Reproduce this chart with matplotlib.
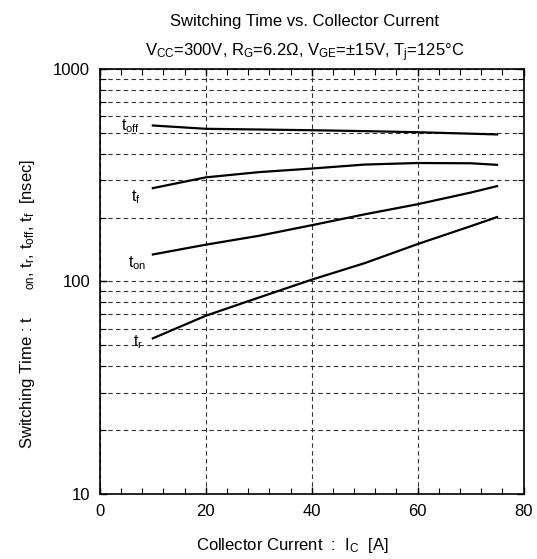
import matplotlib
matplotlib.use("Agg")
import matplotlib.pyplot as plt
import numpy as np
from matplotlib.ticker import MultipleLocator, LogLocator, NullFormatter, FixedLocator, FixedFormatter

plt.rcParams['font.family'] = ['Liberation Sans', 'DejaVu Sans']
plt.rcParams['mathtext.fontset'] = 'custom'
plt.rcParams['mathtext.rm'] = 'Liberation Sans'
plt.rcParams['mathtext.it'] = 'Liberation Sans'

# collector current [A]
ic = [10, 20, 30, 40, 50, 60, 70, 75]
# switching times [nsec]
t_off = [542, 523, 519, 515, 510, 504, 496, 492]
t_f = [275, 309, 327, 340, 355, 361, 360, 354]
t_on = [134, 149, 164, 184, 207, 231, 262, 281]
t_r = [54, 69, 84, 102, 122, 150, 182, 201]

fig = plt.figure(figsize=(5.37, 5.59), dpi=100)
ax = fig.add_axes([0.186, 0.1163, 0.789, 0.7603])

for s in (t_off, t_f, t_on, t_r):
    ax.plot(ic, s, color='black', lw=1.6)

ax.set_yscale('log')
ax.set_xlim(0, 80)
ax.set_ylim(10, 1000)

ax.xaxis.set_major_locator(MultipleLocator(20))
ax.xaxis.set_minor_locator(MultipleLocator(4))
ax.yaxis.set_major_locator(FixedLocator([10, 100, 1000]))
ax.yaxis.set_major_formatter(FixedFormatter(['10', '100', '1000']))
ax.yaxis.set_minor_locator(LogLocator(base=10, subs=np.arange(2, 10)))
ax.yaxis.set_minor_formatter(NullFormatter())

ax.tick_params(which='both', direction='in', top=True, right=True, labelsize=12, pad=7)
ax.tick_params(which='major', length=5, width=1)
ax.tick_params(which='minor', length=4, width=0.8)

ax.grid(True, which='major', axis='x', ls=(0, (4, 3)), color='#333333', lw=0.8)
ax.grid(True, which='both', axis='y', ls=(0, (4, 3)), color='#333333', lw=0.8)

for sp in ax.spines.values():
    sp.set_linewidth(1.2)

# curve labels
ax.text(4.0, 540, r't$_{\rm off}$', fontsize=11.5, ha='left', va='center')
ax.text(5.8, 250, r't$_{\rm f}$', fontsize=11.5, ha='left', va='center')
ax.text(5.3, 122, r't$_{\rm on}$', fontsize=11.5, ha='left', va='center')
ax.text(6.3, 52, r't$_{\rm r}$', fontsize=11.5, ha='left', va='center')

fig.text(0.567, 0.962, 'Switching Time vs. Collector Current', ha='center', va='center', fontsize=12)
fig.text(0.567, 0.906, r'V$_{\rm CC}$=300V, R$_{\rm G}$=6.2$\Omega$, V$_{\rm GE}$=$\pm$15V, T$_{\rm j}$=125°C',
         ha='center', va='center', fontsize=12)

ax.set_xlabel(r'Collector Current  :  I$_{\rm C}$  [A]', fontsize=12)
ax.xaxis.set_label_coords(0.455, -0.1)
ax.set_ylabel(r'Switching Time : t      $_{\rm on}$, t$_{\rm r}$, t$_{\rm off}$, t$_{\rm f}$  [nsec]',
              fontsize=12)
ax.yaxis.set_label_coords(-0.148, 0.447)

fig.savefig('out.png', dpi=100)
